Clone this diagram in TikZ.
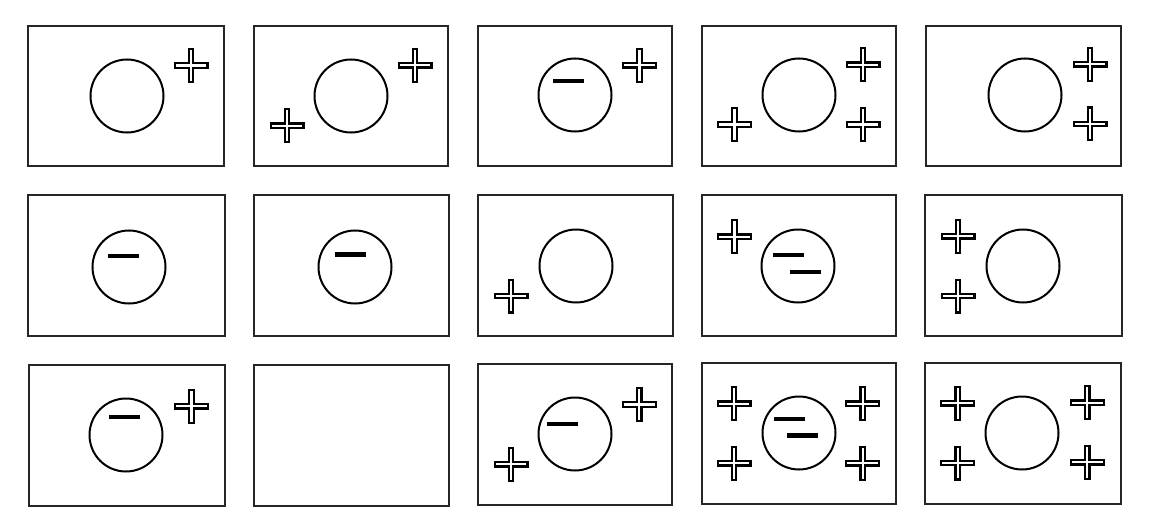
\documentclass[tikz,border=0pt]{standalone}
\begin{document}
\begin{tikzpicture}[x=1pt,y=-1pt,
  panel/.style={draw=black!85, line width=1.3pt},
  ring/.style={draw=black, line width=2pt, circle, minimum size=73pt, inner sep=0pt},
  plussign/.pic={
    \draw[line width=2.2pt, line join=miter, fill=white]
      (-16.4,-2.2) -- (-2.2,-2.2) -- (-2.2,-16.4) -- (2.2,-16.4) -- (2.2,-2.2) -- (16.4,-2.2)
      -- (16.4,2.2) -- (2.2,2.2) -- (2.2,16.4) -- (-2.2,16.4) -- (-2.2,2.2) -- (-16.4,2.2) -- cycle;
  },
  minussign/.pic={
    \fill[black] (-15.5,-2.3) rectangle (15.5,2.3);
  }
]
\fill[white] (0,0) rectangle (1151,532);
\path[use as bounding box] (0,0) rectangle (1151,532);

% panels
\draw[panel] (28,26) rectangle (224,166);
\draw[panel] (254,26) rectangle (448,166);
\draw[panel] (478,26) rectangle (672,166);
\draw[panel] (702,26) rectangle (896,166);
\draw[panel] (926,26) rectangle (1121,166);

\draw[panel] (28,195) rectangle (225,336);
\draw[panel] (254,195) rectangle (449,336);
\draw[panel] (478,195) rectangle (673,336);
\draw[panel] (702,195) rectangle (896,336);
\draw[panel] (925,195) rectangle (1122,336);

\draw[panel] (29,365) rectangle (225,506);
\draw[panel] (254,365) rectangle (449,506);
\draw[panel] (478,364) rectangle (672,505);
\draw[panel] (702,363) rectangle (896,504);
\draw[panel] (925,363) rectangle (1121,504);

% circles
\node[ring] (c1) at (127,96) {};
\node[ring] (c2) at (351,96) {};
\node[ring] (c3) at (575,95) {};
\node[ring] (c4) at (799,95) {};
\node[ring] (c5) at (1025,95) {};
\node[ring] (c6) at (129,267) {};
\node[ring] (c7) at (355,267) {};
\node[ring] (c8) at (576,266) {};
\node[ring] (c9) at (798,266) {};
\node[ring] (c10) at (1023,266) {};
\node[ring] (c11) at (126,435) {};
\node[ring] (c13) at (575,434) {};
\node[ring] (c14) at (799,433) {};
\node[ring] (c15) at (1022,433) {};

% minus signs
\pic at (568,81) {minussign};
\pic at (123,256) {minussign};
\pic at (350,254.5) {minussign};
\pic at (788,255) {minussign};
\pic at (805,272) {minussign};
\pic at (124,417) {minussign};
\pic at (562.5,424) {minussign};
\pic at (789,419) {minussign};
\pic at (802,435.3) {minussign};

% plus signs
\pic at (191,65.5) {plussign};
\pic at (415,65.3) {plussign};
\pic at (287,125.7) {plussign};
\pic at (639.5,65.3) {plussign};
\pic at (863,64.7) {plussign};
\pic at (863,124.5) {plussign};
\pic at (734.5,124.5) {plussign};
\pic at (1090,64.3) {plussign};
\pic at (1090,124) {plussign};
\pic at (511,296) {plussign};
\pic at (734.5,236.7) {plussign};
\pic at (958,236.2) {plussign};
\pic at (958,296) {plussign};
\pic at (191.4,406.3) {plussign};
\pic at (639.3,404.5) {plussign};
\pic at (511,464.2) {plussign};
\pic at (734,403.7) {plussign};
\pic at (734,463.3) {plussign};
\pic at (862.7,403.7) {plussign};
\pic at (862.7,463.3) {plussign};
\pic at (957.7,403.3) {plussign};
\pic at (957.7,463) {plussign};
\pic at (1087.3,402.7) {plussign};
\pic at (1087.3,462.3) {plussign};
\end{tikzpicture}
\end{document}
